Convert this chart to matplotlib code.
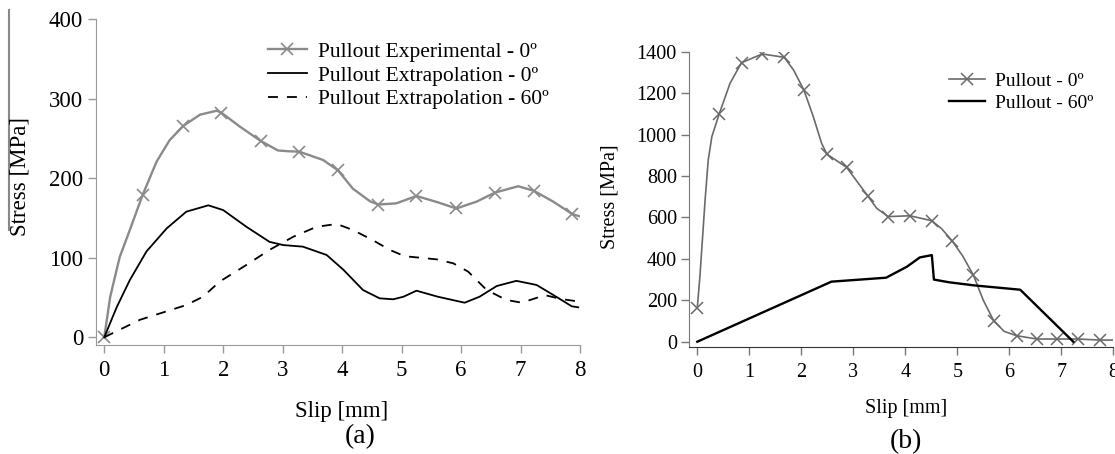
import matplotlib

matplotlib.use("Agg")

import matplotlib.pyplot as plt
import numpy as np
from matplotlib.lines import Line2D

plt.rcParams["font.family"] = ["Liberation Serif", "DejaVu Serif"]

# (a) experimental pullout 0 deg (smooth grey curve with x markers)
exp0_slip = [0, 0.10, 0.26, 0.43, 0.645, 0.88, 1.10, 1.33, 1.61, 1.89, 1.97, 2.28, 2.63, 2.92,
             3.10, 3.28, 3.68, 3.93, 4.18, 4.47, 4.61, 4.91, 5.25, 5.60, 5.92, 6.26, 6.57, 6.96,
             7.22, 7.55, 7.87, 8.0]
exp0_stress = [0, 51, 101, 135, 179, 221, 248, 266, 280, 285, 282.5, 265, 247, 235,
               234, 233.5, 223, 210, 187, 171, 167, 168.5, 177.7, 170, 162, 170.6, 182, 190,
               184.4, 170.6, 155, 152]
exp0_marks = [0, 0.645, 1.33, 1.97, 2.63, 3.28, 3.93, 4.61, 5.25, 5.92, 6.57, 7.22, 7.87]

# (a) extrapolation 0 deg
ext0_slip = [0, 0.21, 0.43, 0.71, 1.05, 1.38, 1.75, 2.0, 2.39, 2.78, 3.01, 3.34, 3.74, 4.02,
             4.35, 4.63, 4.86, 5.03, 5.25, 5.61, 6.06, 6.31, 6.60, 6.93, 7.27, 7.60, 7.86, 7.97]
ext0_stress = [0, 38, 72, 108, 137, 158, 166, 160, 139, 120, 116, 114, 103.5, 85,
               59.5, 49, 47.8, 51, 58.6, 51, 43.5, 51, 64.5, 71, 65.8, 51, 39, 37.7]

# (a) extrapolation 60 deg
ext60_slip = [0, 0.60, 1.38, 1.66, 1.94, 2.39, 2.78, 3.18, 3.57, 3.91, 4.18, 4.52, 4.80, 5.05,
              5.59, 5.87, 6.12, 6.43, 6.76, 7.02, 7.41, 7.69, 7.98]
ext60_stress = [0, 22, 40.6, 51, 70, 91, 110, 126.5, 139, 142.5, 135, 122, 110, 102,
                98, 93, 82.5, 59.5, 47, 43.5, 53, 48, 45]

# (b) pullout 0 deg
p0_slip = [0, 0.05, 0.15, 0.21, 0.28, 0.42, 0.63, 0.85, 1.25, 1.67, 1.85, 2.05, 2.23, 2.39,
           2.49, 2.87, 3.28, 3.45, 3.67, 4.09, 4.51, 4.70, 4.90, 5.10, 5.31, 5.50, 5.70, 5.90,
           6.14, 6.53, 6.92, 7.32, 7.74, 8.0]
p0_stress = [165, 314, 684, 877, 990, 1099, 1248, 1347, 1389, 1373, 1312, 1215, 1087, 958,
             906, 842, 703, 644, 604, 608, 584, 545, 487, 415, 321, 200, 101, 50,
             29, 13, 13, 13, 8, 8]
p0_marks = [0, 0.42, 0.85, 1.25, 1.67, 2.05, 2.49, 2.87, 3.28, 3.67, 4.09, 4.51, 4.90, 5.31,
            5.70, 6.14, 6.53, 6.92, 7.32, 7.74]

# (b) pullout 60 deg
p60_slip = [0, 2.58, 3.63, 4.03, 4.28, 4.51, 4.55, 4.84, 5.32, 6.21, 7.23]
p60_stress = [0, 290, 309, 362, 407, 418, 300, 287, 272, 251, 0]

labels_a = ["Pullout Experimental - 0º", "Pullout Extrapolation - 0º", "Pullout Extrapolation - 60º"]
labels_b = ["Pullout - 0º", "Pullout - 60º"]


def mark_idx(xs, marks):
    xs = np.asarray(xs)
    return [int(np.argmin(np.abs(xs - m))) for m in marks]


def style_axes(ax, spine_col, bottom_col, fs):
    for s in ("top", "right"):
        ax.spines[s].set_visible(False)
    ax.spines["left"].set_color(spine_col)
    ax.spines["bottom"].set_color(bottom_col)
    ax.tick_params(axis="y", direction="out", length=6, width=1, color=spine_col,
                   labelsize=fs, pad=3)
    ax.tick_params(axis="x", direction="out", length=6, width=1, color=spine_col,
                   labelsize=fs, pad=5)


fig = plt.figure(figsize=(11.15, 4.54), dpi=100)

# ---- panel (a)
ax1 = fig.add_axes([0.0858, 0.2401, 0.4344, 0.7174])
ax1.plot(exp0_slip, exp0_stress, color="#8a8a8a", lw=1.7, marker="x", ms=8, mew=1.2,
         markevery=mark_idx(exp0_slip, exp0_marks), label=labels_a[0])
ax1.plot(ext0_slip, ext0_stress, color="black", lw=1.3, label=labels_a[1])
ax1.plot(ext60_slip, ext60_stress, color="black", lw=1.3, dashes=(5.5, 5), label=labels_a[2])
ax1.set_xlim(-0.1445, 8.0)
ax1.set_ylim(-9.7, 400)
ax1.set_xticks(range(0, 9))
ax1.set_yticks([0, 100, 200, 300, 400])
style_axes(ax1, "#999999", "#999999", 16.5)
ax1.legend(loc="upper left", bbox_to_anchor=(268 / 1115, 1 - 41.5 / 454),
           bbox_transform=fig.transFigure, frameon=False, fontsize=15.5,
           handlelength=1.8, handletextpad=0.5, labelspacing=0.18,
           borderpad=0, borderaxespad=0)

fig.text(20.5 / 1115, 1 - 177 / 454, "Stress [MPa]", rotation=90, ha="center", va="center",
         fontsize=16.5)
fig.text(342 / 1115, 1 - 411 / 454, "Slip [mm]", ha="center", va="center", fontsize=16.5)
fig.text(360 / 1115, 1 - 437 / 454, "(a)", ha="center", va="center", fontsize=20)

# stray grey rule at the far left edge of the scanned figure
fig.add_artist(Line2D([9.3 / 1115, 9.3 / 1115], [1 - 10 / 454, 1 - 230 / 454],
                      color="#888888", lw=1.5))

# ---- panel (b)
ax2 = fig.add_axes([0.6182, 0.2350, 0.3803, 0.6511])
ax2.plot(p0_slip, p0_stress, color="#6a6a6a", lw=1.2, marker="x", ms=8, mew=1.1,
         markevery=mark_idx(p0_slip, p0_marks), label=labels_b[0])
ax2.plot(p60_slip, p60_stress, color="black", lw=1.7, label=labels_b[1])
ax2.set_xlim(-0.154, 8.0)
ax2.set_ylim(-27, 1400)
ax2.set_xticks(range(0, 9))
ax2.set_yticks(range(0, 1401, 200))
style_axes(ax2, "#777777", "#333333", 14.5)
ax2.legend(loc="upper left", bbox_to_anchor=(949 / 1115, 1 - 72 / 454),
           bbox_transform=fig.transFigure, frameon=False, fontsize=14,
           handlelength=1.85, handletextpad=0.5, labelspacing=0.24,
           borderpad=0, borderaxespad=0)

fig.text(610 / 1115, 1 - 197 / 454, "Stress [MPa]", rotation=90, ha="center", va="center",
         fontsize=14.5)
fig.text(906 / 1115, 1 - 409 / 454, "Slip [mm]", ha="center", va="center", fontsize=14.5)
fig.text(905.5 / 1115, 1 - 441.5 / 454, "(b)", ha="center", va="center", fontsize=20)

fig.savefig("out.png", dpi=100)
plt.close(fig)
